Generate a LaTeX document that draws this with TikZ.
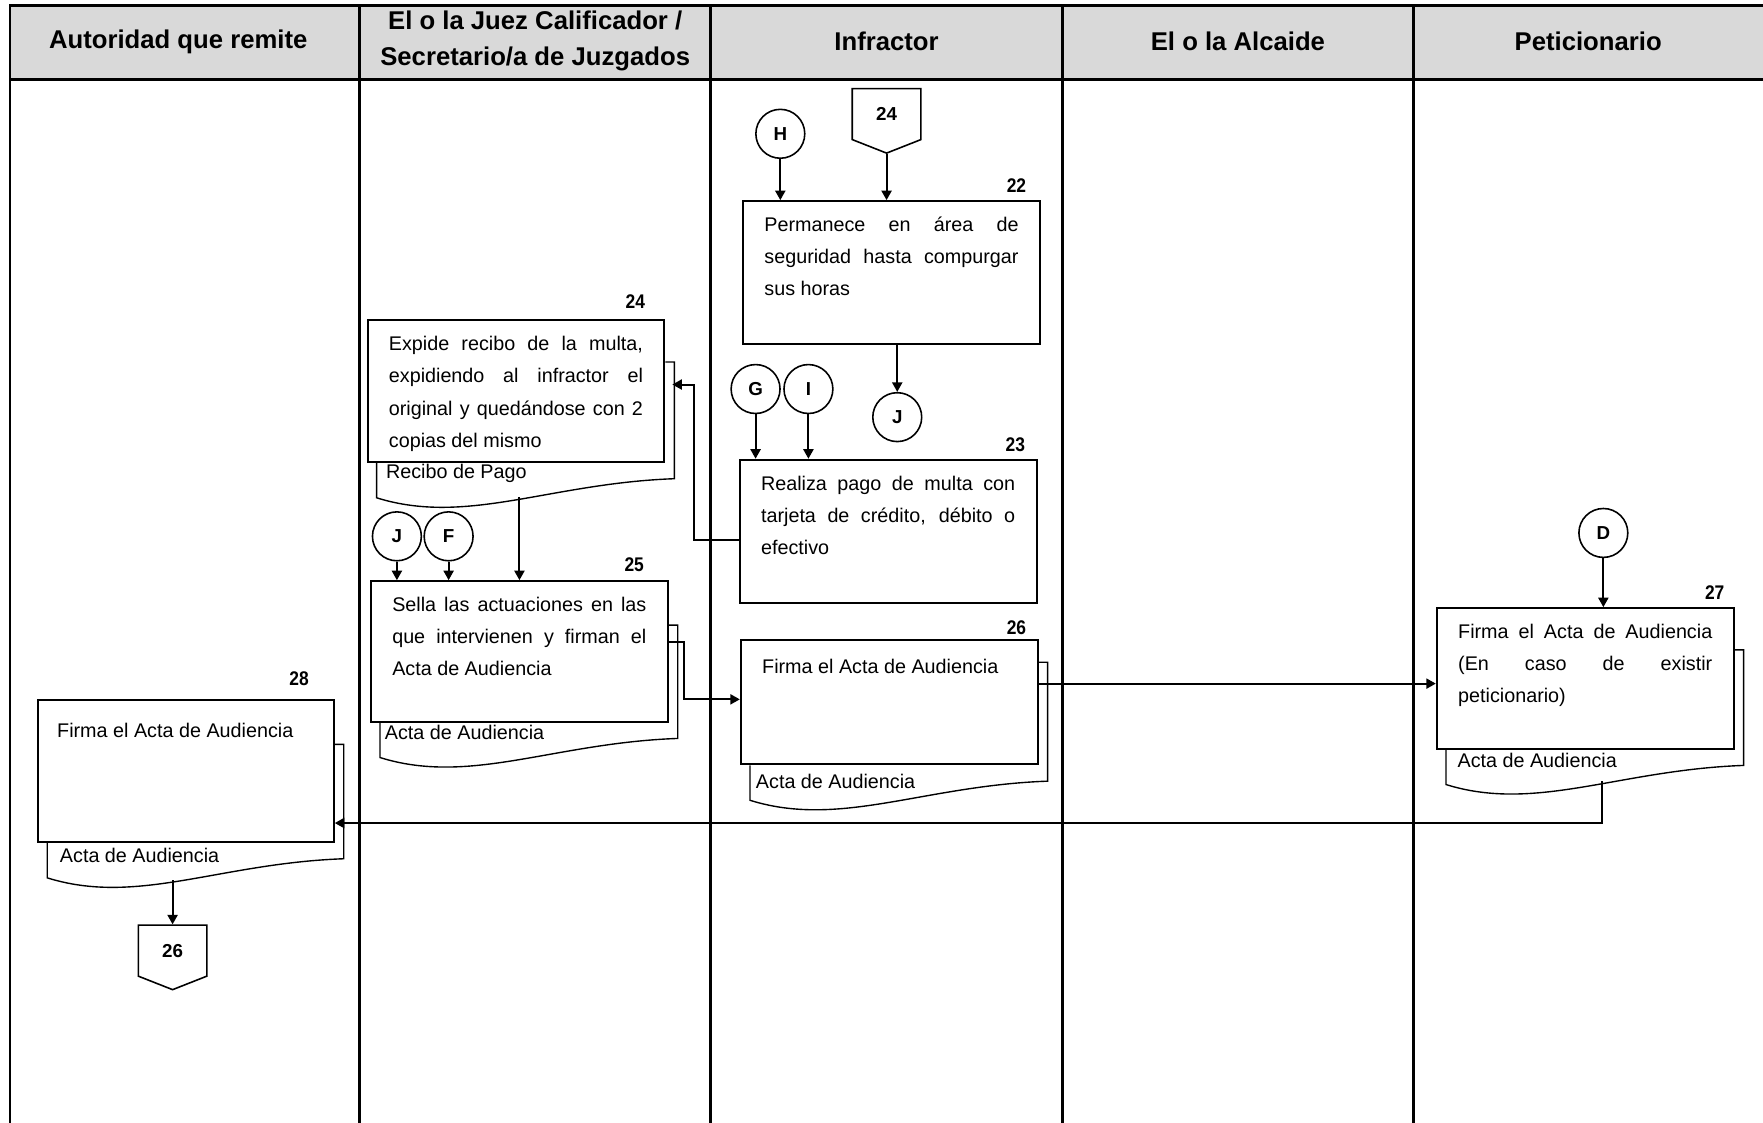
\documentclass[tikz,border=0pt]{standalone}
\usepackage{fontspec}
\setmainfont{Liberation Sans}
\newfontfamily\narrowfont[FakeStretch=0.88]{Liberation Sans}
\usepackage{tikz}
\usetikzlibrary{arrows.meta,calc,shapes.symbols}

\definecolor{headgray}{HTML}{D9D9D9}
\newcommand{\bodyfont}{\fontsize{10}{16.3}\selectfont\hyphenpenalty=10000\relax}
% back sheet of a document box: node, drop of its top edge
\newcommand{\docback}[2]{%
  \draw[backline] ($(#1.south west)+(0.09,0)$) -- ++(0,0.31)
    .. controls +(0.8,0.25) and +(-1.11,0.04) .. ($(#1.south east)+(0.08,0.14)$)
    -- ($(#1.north east)+(0.08,#2)$) -- ($(#1.north east)+(0,#2)$);}

\begin{document}
\begin{tikzpicture}[x=2cm,y=-2cm,
    lane/.style={line width=1.5pt},
    headtxt/.style={font=\bfseries\fontsize{13}{18.5}\selectfont, align=center},
    procbox/.style={draw, line width=1pt, anchor=north west, text width=4.52cm,
      align=justify, inner xsep=0.38cm, inner ysep=0.2cm, text height=0.34cm, font=\bodyfont},
    backline/.style={line width=0.7pt},
    doccap/.style={anchor=west, inner sep=0pt, font=\fontsize{10}{12}\selectfont},
    steplbl/.style={anchor=base east, inner sep=0pt, font=\narrowfont\bfseries\fontsize{10}{12}\selectfont},
    conn/.style={circle, draw, line width=0.8pt, minimum size=0.87cm, inner sep=0pt,
      font=\bfseries\fontsize{9.5}{11}\selectfont},
    offpage/.style={shape=signal, signal to=south, signal pointer angle=137, draw,
      line width=0.8pt, minimum width=1.22cm, minimum height=0.98cm, inner sep=0pt,
      font=\bfseries\fontsize{9.5}{11}\selectfont}]
\useasboundingbox (0,0) rectangle (15.68,9.98);

% lanes
\fill[headgray] (0.089,0.053) rectangle (15.9,0.71);
\draw[lane] (15.9,0.053) -- (0.089,0.053) -- (0.089,10.1);
\draw[lane] (0.089,0.71) -- (15.9,0.71);
\draw[lane] (3.20,0.053) -- (3.20,10.1);
\draw[lane] (6.32,0.053) -- (6.32,10.1);
\draw[lane] (9.45,0.053) -- (9.45,10.1);
\draw[lane] (12.57,0.053) -- (12.57,10.1);

\node[headtxt] (hAut) at (1.585,0.37) {Autoridad que remite};
\node[headtxt] (hJuez) at (4.76,0.365) {El o la Juez Calificador /\\Secretario/a de Juzgados};
\node[headtxt] (hInf) at (7.885,0.37) {Infractor};
\node[headtxt] (hAlc) at (11.01,0.37) {El o la Alcaide};
\node[headtxt] (hPet) at (14.125,0.37) {Peticionario};

% activities
\begin{scope}[every node/.style={procbox}]
    \node[text depth=1.80cm] (n22) at (6.60,1.78) {Permanece en área de\linebreak seguridad hasta compurgar\linebreak sus horas};
    \node[text depth=1.80cm] (n23) at (6.57,4.08) {Realiza pago de multa con\linebreak tarjeta de crédito, débito o\linebreak efectivo};
    \node[text depth=1.78cm] (n24) at (3.26,2.84) {Expide recibo de la multa,\linebreak expidiendo al infractor el\linebreak original y quedándose con 2\linebreak copias del mismo};
    \node[text depth=1.76cm] (n25) at (3.29,5.16) {Sella las actuaciones en las\linebreak que intervienen y firman el\linebreak Acta de Audiencia};
    \node[text height=0.40cm, text depth=1.42cm] (n26) at (6.58,5.68) {Firma el Acta de Audiencia};
    \node[text depth=1.76cm] (n27) at (12.77,5.40) {Firma el Acta de Audiencia\linebreak (En caso de existir\linebreak peticionario)};
    \node[text height=0.46cm, text depth=1.66cm, inner xsep=0.34cm, text width=4.58cm] (n28) at (0.33,6.22) {Firma el Acta de Audiencia};
\end{scope}

\docback{n24}{0.38}
\docback{n25}{0.40}
\docback{n26}{0.21}
\docback{n27}{0.38}
\docback{n28}{0.40}

\node[doccap] (t24) at (3.43,4.21) {Recibo de Pago};
\node[doccap] (t25) at (3.42,6.51) {Acta de Audiencia};
\node[doccap] (t26) at (6.72,6.95) {Acta de Audiencia};
\node[doccap] (t27) at (12.96,6.76) {Acta de Audiencia};
\node[doccap] (t28) at (0.53,7.61) {Acta de Audiencia};

\node[steplbl] (l22) at (9.13,1.71) {22};
\node[steplbl] (l23) at (9.12,4.02) {23};
\node[steplbl] (l24) at (5.74,2.74) {24};
\node[steplbl] (l25) at (5.73,5.08) {25};
\node[steplbl] (l26) at (9.13,5.64) {26};
\node[steplbl] (l27) at (15.34,5.33) {27};
\node[steplbl] (l28) at (2.75,6.10) {28};

% connectors
\begin{scope}[every node/.style={conn}]
    \node (cH) at (6.94,1.19) {H};
    \node (cG) at (6.72,3.46) {G};
    \node (cI) at (7.19,3.46) {I};
    \node (cJa) at (7.98,3.71) {J};
    \node (cJb) at (3.53,4.77) {J};
    \node (cF) at (3.99,4.77) {F};
    \node (cD) at (14.26,4.74) {D};
\end{scope}
\node[offpage] (p24) at (7.885,1.015) {24};
\node[offpage] (p26) at (1.535,8.455) {26};

\coordinate (b24) at (5.98,3.42);
\coordinate (w24) at (4.62,4.42);
\coordinate (w27) at (14.25,6.95);
\coordinate (w28) at (1.535,7.83);

\begin{scope}[>={Triangle[length=1.7mm,width=1.8mm]}, line width=1pt]
    \draw[->] (cH) -- (cH |- n22.north);
    \draw[->] (p24.south) -- (p24.south |- n22.north);
    \draw[->] (n22.south -| cJa) -- (cJa);
    \draw[->] (cG) -- (cG |- n23.north);
    \draw[->] (cI) -- (cI |- n23.north);
    \draw[->] (n23.west |- 0,4.80) -| (6.17,3.42) -- (b24);
    \draw[->] (w24) -- (w24 |- n25.north);
    \draw[->] (cJb) -- (cJb |- n25.north);
    \draw[->] (cF) -- (cF |- n25.north);
    \draw[->] (n25.east |- 0,5.71) -| (6.08,6.22) -- (n26.west |- 0,6.22);
    \draw[->] (n26.east |- 0,6.08) -- (n27.west |- 0,6.08);
    \draw[->] (cD) -- (cD |- n27.north);
    \draw[->] (w27) |- (n28.east |- 0,7.32);
    \draw[->] (w28) -- (p26.north);
\end{scope}
\end{tikzpicture}
\end{document}
